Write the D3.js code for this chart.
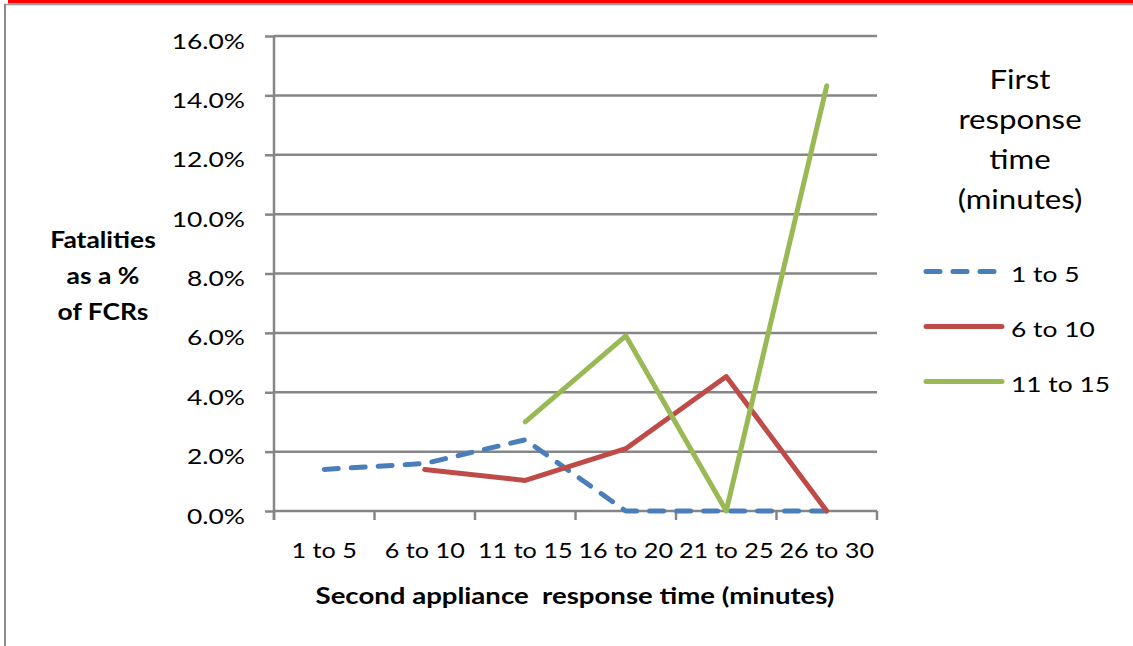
<!DOCTYPE html>
<html>
<head>
    <meta charset="utf-8">
    <title>Fatalities by response time</title>
    <script src="https://d3js.org/d3.v7.min.js"></script>
    <style>
        body { margin: 0; background: #fff; }
        text { fill: #000; font-family: Lato, sans-serif; }
    </style>
</head>
<body>
    <script>
        // categories on the x axis
        const categories = ['1 to 5', '6 to 10', '11 to 15', '16 to 20', '21 to 25', '26 to 30']
        // one series per first response time band, null = no point
        const seriesNames = ['1 to 5', '6 to 10', '11 to 15']
        const firstFive = [0.014, 0.016, 0.024, 0, 0, 0]
        const sixToTen = [null, 0.014, 0.0103, 0.021, 0.0453, 0]
        const elevenToFifteen = [null, null, 0.030, 0.059, 0, 0.1432]
        const yTicks = [0, 0.02, 0.04, 0.06, 0.08, 0.10, 0.12, 0.14, 0.16]

        const colors = ['#4a7ebb', '#be4b48', '#98b954']
        const allSeries = [firstFive, sixToTen, elevenToFifteen]

        const width = 1133, height = 646
        const plotLeft = 274, plotRight = 877, plotTop = 36, plotBottom = 511
        const grey = '#868686'
        // the source picture is stretched sideways, so text gets a horizontal scale
        const sx = 1.2

        // scale a text element sideways while keeping its anchor point
        function stretch(sel) {
            sel.each(function () {
                const t = d3.select(this)
                t.attr('x', (+t.attr('x') || 0) / sx)
                t.selectAll('tspan').each(function () {
                    const s = d3.select(this)
                    s.attr('x', (+s.attr('x') || 0) / sx)
                })
                t.attr('transform', 'scale(' + sx + ',1)')
            })
        }

        const svg = d3.select('body').append('svg')
            .attr('width', width)
            .attr('height', height)

        // page frame bits
        svg.append('rect').attr('x', 8).attr('y', 0).attr('width', width - 8).attr('height', 3.5).attr('fill', '#ff0000')
        svg.append('line').attr('x1', 4).attr('x2', width).attr('y1', 4.5).attr('y2', 4.5)
            .attr('stroke', '#9a9a9a').attr('stroke-width', 1.5)
        svg.append('line').attr('x1', 5).attr('x2', 5).attr('y1', 4).attr('y2', height)
            .attr('stroke', '#8a8a8a').attr('stroke-width', 2)

        const x = d3.scaleBand().domain(categories).range([plotLeft, plotRight])
        const y = d3.scaleLinear().domain([0, 0.16]).range([plotBottom, plotTop])

        // gridlines
        svg.append('g').selectAll('line')
            .data(yTicks.filter(d => d > 0))
            .join('line')
            .attr('x1', plotLeft).attr('x2', plotRight)
            .attr('y1', d => y(d)).attr('y2', d => y(d))
            .attr('stroke', grey).attr('stroke-width', 2.5)

        // y axis
        const yAxis = svg.append('g')
            .attr('transform', 'translate(' + plotLeft + ',0)')
            .call(d3.axisLeft(y).tickValues(yTicks).tickSize(9).tickPadding(20).tickFormat(d3.format('.1%')))
        yAxis.select('.domain').attr('stroke', grey).attr('stroke-width', 2.5).attr('d', 'M0,' + plotTop + 'V' + (plotBottom + 9))
        yAxis.selectAll('.tick line').attr('stroke', grey).attr('stroke-width', 2.5)
        yAxis.selectAll('.tick text')
            .style('font-family', 'Lato').style('font-size', '22px')
            .attr('dy', 12)
            .call(stretch)

        // x axis: labels at centres, tick marks at category edges
        const xAxis = svg.append('g')
            .attr('transform', 'translate(0,' + plotBottom + ')')
            .call(d3.axisBottom(x).tickSize(0))
        xAxis.select('.domain').attr('stroke', grey).attr('stroke-width', 2.5).attr('d', 'M' + plotLeft + ',0H' + plotRight)
        xAxis.selectAll('.tick text')
            .style('font-family', 'Lato').style('font-size', '21px')
            .attr('y', 47).attr('dy', 0)
            .call(stretch)
        svg.append('g').selectAll('line')
            .data(categories.concat(['end']))
            .join('line')
            .attr('x1', (d, i) => plotLeft + i * x.step())
            .attr('x2', (d, i) => plotLeft + i * x.step())
            .attr('y1', plotBottom).attr('y2', plotBottom + 9)
            .attr('stroke', grey).attr('stroke-width', 2.5)

        // lines
        const line = d3.line()
            .defined(d => d.v !== null)
            .x(d => x(d.c) + x.bandwidth() / 2)
            .y(d => y(d.v))

        allSeries.forEach((values, i) => {
            svg.append('path')
                .datum(values.map((v, j) => ({ c: categories[j], v: v })))
                .attr('d', line)
                .attr('fill', 'none')
                .attr('stroke', colors[i])
                .attr('stroke-width', 5)
                .attr('stroke-linecap', 'round')
                .attr('stroke-linejoin', 'round')
                .attr('stroke-dasharray', i === 0 ? '14,13' : null)
        })

        // y axis title
        const yTitle = svg.append('text')
            .attr('text-anchor', 'middle')
            .style('font-size', '22px').style('font-weight', 'bold')
        ;['Fatalities', 'as a %', 'of FCRs'].forEach((t, i) => {
            yTitle.append('tspan').attr('x', 103).attr('y', 248 + i * 36).text(t)
        })
        yTitle.call(stretch)

        // x axis title
        svg.append('text')
            .attr('x', 575).attr('y', 604)
            .attr('text-anchor', 'middle')
            .style('font-size', '23px').style('font-weight', 'bold')
            .style('white-space', 'pre')
            .text('Second appliance  response time (minutes)')
            .call(stretch)

        // legend title
        const legTitle = svg.append('text')
            .attr('text-anchor', 'middle')
            .style('font-size', '26px')
        ;['First', 'response', 'time', '(minutes)'].forEach((t, i) => {
            legTitle.append('tspan').attr('x', 1020).attr('y', 89 + i * 40).text(t)
        })
        legTitle.call(stretch)

        // legend entries
        const legend = svg.append('g').selectAll('g')
            .data(seriesNames)
            .join('g')
            .attr('transform', (d, i) => 'translate(0,' + (271.5 + i * 55) + ')')
        legend.append('line')
            .attr('x1', 926).attr('x2', 1002)
            .attr('stroke', (d, i) => colors[i])
            .attr('stroke-width', 5)
            .attr('stroke-linecap', 'round')
            .attr('stroke-dasharray', (d, i) => i === 0 ? '14,13' : null)
        legend.append('text')
            .attr('x', 1011).attr('y', 10)
            .style('font-size', '22px')
            .text(d => d)
            .call(stretch)
    </script>
</body>
</html>
